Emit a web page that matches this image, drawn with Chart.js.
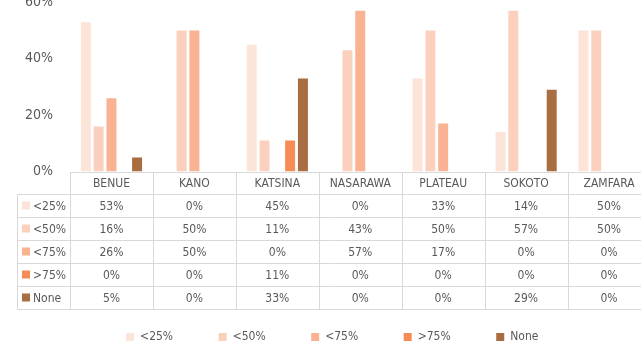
<!DOCTYPE html>
<html>
<head>
<meta charset="utf-8">
<script src="https://cdn.jsdelivr.net/npm/chart.js@4.4.1/dist/chart.umd.min.js"></script>
<style>
  html, body { margin: 0; padding: 0; background: #fff; }
  #wrap { position: relative; width: 641px; height: 343px; overflow: hidden; }
  #wrap canvas { position: absolute; left: 0; top: -23px; }
</style>
</head>
<body>
<div id="wrap"><canvas id="myChart" width="660" height="380"></canvas></div>
<script>
// share of respondents per state, in percent
var states = ['BENUE', 'KANO', 'KATSINA', 'NASARAWA', 'PLATEAU', 'SOKOTO', 'ZAMFARA'];
var lt25 = [53, 0, 45, 0, 33, 14, 50];
var lt50 = [16, 50, 11, 43, 50, 57, 50];
var lt75 = [26, 50, 0, 57, 17, 0, 0];
var gt75 = [0, 0, 11, 0, 0, 0, 0];
var none = [5, 0, 33, 0, 0, 29, 0];
var seriesNames = ['<25%', '<50%', '<75%', '>75%', 'None'];
var seriesColors = ['#FCE4D9', '#FBD1BE', '#F9B292', '#F68B55', '#A86D41'];
var yTicks = [0, 20, 40, 60];

var grey = '#595959';
var lineGrey = '#D9D9D9';
var fontFam = "'Liberation Sans Narrow', 'DejaVu Sans Condensed', 'Arial Narrow', sans-serif";
Chart.defaults.font.family = fontFam;
Chart.defaults.color = grey;

var allSeries = [lt25, lt50, lt75, gt75, none];

// data table drawn under the plot, one column per state
var dataTable = {
  id: 'dataTable',
  afterDraw: function (chart) {
    var ctx = chart.ctx;
    var area = chart.chartArea;
    var xs = chart.scales.x;
    var colW = (area.right - area.left) / states.length;
    var top = Math.round(area.bottom);
    var headH = 22, rowH = 23;
    var rowLeft = 17;
    var tableRight = area.right;
    var bottom = top + headH + rowH * allSeries.length;

    ctx.save();
    ctx.strokeStyle = lineGrey;
    ctx.lineWidth = 1;
    ctx.beginPath();
    // header top line
    ctx.moveTo(area.left, top + 0.5);
    ctx.lineTo(tableRight, top + 0.5);
    // row lines
    for (var r = 0; r <= allSeries.length; r++) {
      var y = top + headH + r * rowH + 0.5;
      ctx.moveTo(rowLeft, y);
      ctx.lineTo(tableRight, y);
    }
    // column lines
    for (var c = 0; c <= states.length; c++) {
      var x = Math.round(area.left + c * colW) + 0.5;
      ctx.moveTo(x, top);
      ctx.lineTo(x, bottom);
    }
    ctx.moveTo(rowLeft + 0.5, top + headH);
    ctx.lineTo(rowLeft + 0.5, bottom);
    ctx.stroke();

    ctx.fillStyle = grey;
    ctx.font = '12px ' + fontFam;
    ctx.textAlign = 'center';
    ctx.textBaseline = 'middle';
    for (var i = 0; i < states.length; i++) {
      var cx = xs.getPixelForValue(i);
      ctx.fillText(states[i], cx, top + headH / 2 + 1);
      for (var s = 0; s < allSeries.length; s++) {
        ctx.fillText(allSeries[s][i] + '%', cx, top + headH + s * rowH + rowH / 2 + 1);
      }
    }

    ctx.textAlign = 'left';
    for (var k = 0; k < seriesNames.length; k++) {
      var cy = top + headH + k * rowH + rowH / 2;
      ctx.fillStyle = seriesColors[k];
      ctx.fillRect(22, cy - 4, 8, 8);
      ctx.fillStyle = grey;
      ctx.fillText(seriesNames[k], 33, cy + 1);
    }
    ctx.restore();
  }
};

var datasets = [];
for (var d = 0; d < allSeries.length; d++) {
  datasets.push({
    label: seriesNames[d],
    data: allSeries[d],
    backgroundColor: seriesColors[d],
    borderWidth: 0,
    categoryPercentage: 0.772,
    barPercentage: 0.78
  });
}

var ctx = document.getElementById('myChart');
var myChart = new Chart(ctx, {
  type: 'bar',
  data: {
    labels: states,
    datasets: datasets
  },
  options: {
    responsive: false,
    animation: false,
    layout: { padding: { left: 14, right: 9.5, top: 0, bottom: 4 } },
    plugins: {
      tooltip: { enabled: false },
      legend: {
        position: 'bottom',
        labels: {
          boxWidth: 8,
          boxHeight: 8,
          padding: 45.5,
          color: grey,
          font: { size: 12 }
        }
      }
    },
    scales: {
      x: {
        grid: { display: false, drawTicks: false },
        border: { display: false },
        ticks: { display: false },
        afterFit: function (scale) { scale.height = 114; }
      },
      y: {
        min: 0,
        max: 60,
        grid: { display: false, drawTicks: false },
        border: { display: false },
        afterBuildTicks: function (scale) {
          scale.ticks = yTicks.map(function (v) { return { value: v }; });
        },
        ticks: {
          padding: 17,
          color: grey,
          font: { size: 14 },
          callback: function (v) { return v + '%'; }
        },
        afterFit: function (scale) { scale.width = 56; }
      }
    }
  },
  plugins: [dataTable]
});
</script>
</body>
</html>
